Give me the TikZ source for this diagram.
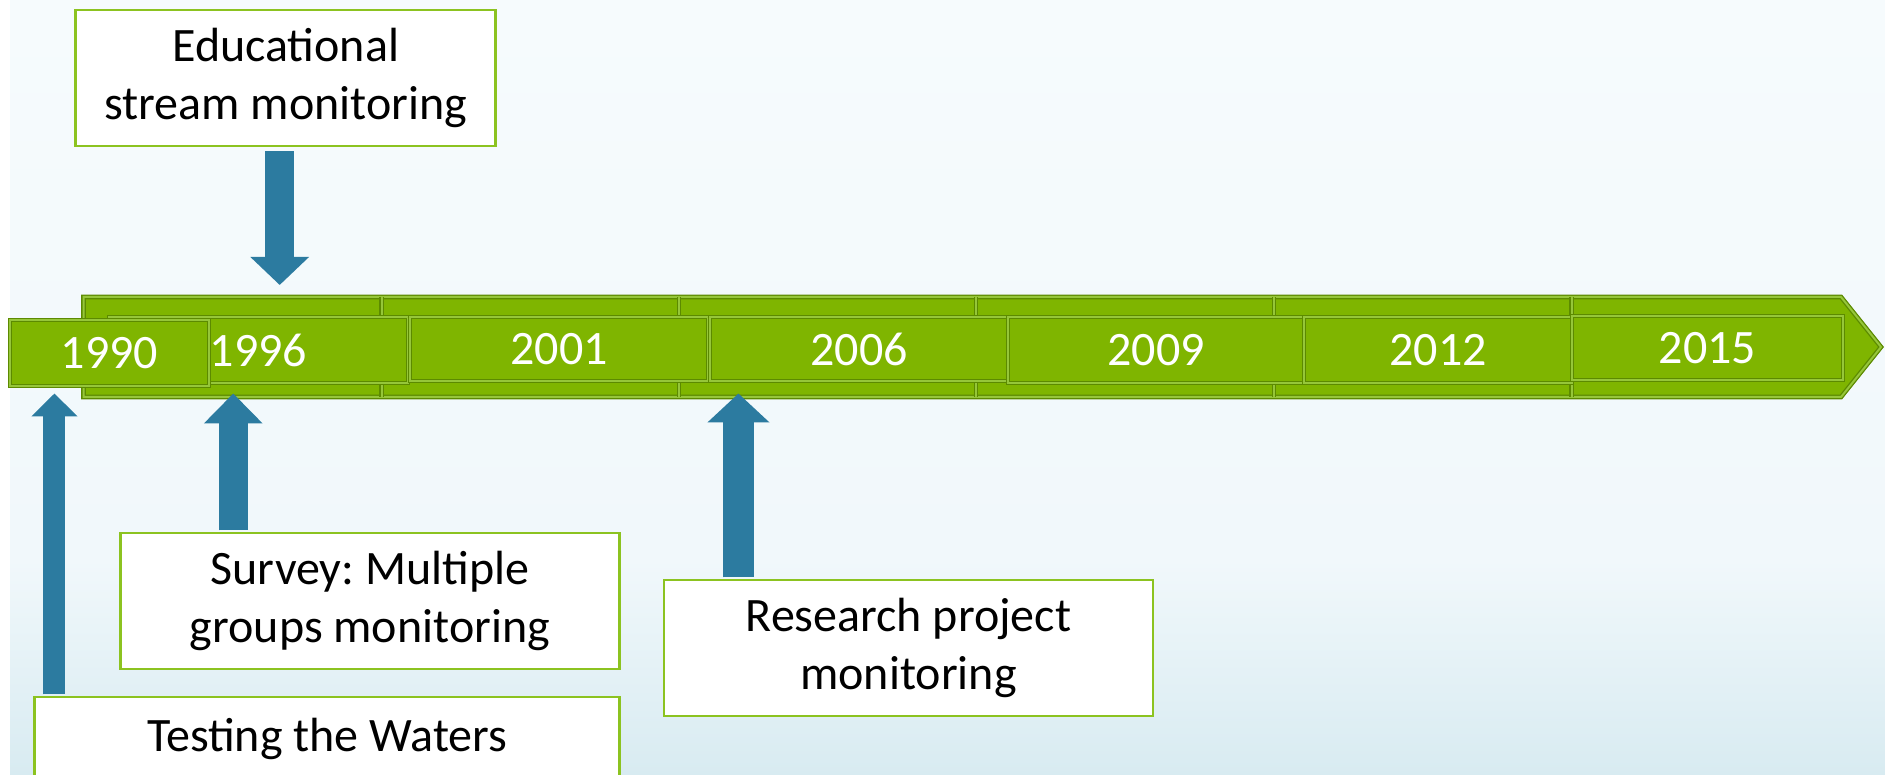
\documentclass[tikz,border=0pt]{standalone}
\usepackage{fontspec}
\setmainfont{Carlito}
\frenchspacing
\usetikzlibrary{calc,arrows.meta}
\definecolor{barGreen}{HTML}{7FB500}
\definecolor{barEdge}{HTML}{5C8A00}
\definecolor{barLight}{HTML}{96C63A}
\definecolor{boxEdge}{HTML}{8CC320}
\definecolor{arrowBlue}{HTML}{2C7BA0}
\definecolor{bgTop}{HTML}{F6FBFD}
\definecolor{bgMid}{HTML}{F1F8FB}
\definecolor{bgBottom}{HTML}{D8EBF1}
\tikzset{
	bandline/.style={draw=barEdge, double=barLight, double distance=2pt, line width=1.3pt},
	yearbox/.style={bandline, fill=barGreen, text=white, inner sep=0pt, font=\fontsize{48}{58}\selectfont},
	textbox/.style={draw=boxEdge, line width=2.5pt, fill=white, align=center, inner sep=0pt, font=\fontsize{48}{58}\selectfont},
	flow/.style args={#1/#2/#3}{draw=arrowBlue, line width=#1, -{Triangle[width=#2, length=#3]}}
}

\begin{document}
\begin{tikzpicture}[x=1pt, y=-1pt]
			%%%%% START %%%%%
			
			\useasboundingbox (0, 0) rectangle (1885, 775);
			\clip (0, 0) rectangle (1885, 775);
			\fill[white] (0, 0) rectangle (1885, 775);
			\shade[top color=bgTop, bottom color=bgMid] (10, 0) rectangle (1885, 560);
			\shade[top color=bgMid, bottom color=bgBottom] (10, 559) rectangle (1885, 775);
			
			% timeline band
			\draw[bandline, fill=barGreen] (83.5, 297) -- (1841, 297) -- (1881, 347) -- (1841, 397) -- (83.5, 397) -- cycle;
			\foreach \x in {381.7, 679, 976, 1274, 1571.6}
				\draw[bandline] (\x, 297) -- (\x, 397);
			
			\foreach \yr/\xa/\ya/\xb/\yb in {1996/109/317/408/383, 2001/410/317/708/381, 2006/710/317/1008/381, 2009/1008/317/1304/383, 2012/1304/317/1572/383, 2015/1572/316/1843/380, 1990/10/320/209/386}{
				\pgfmathsetmacro\w{\xb-\xa}
				\pgfmathsetmacro\h{\yb-\ya}
				\node[yearbox, minimum width=\w pt, minimum height=\h pt] (y\yr) at ({(\xa+\xb)/2}, {(\ya+\yb)/2}) {\yr};
			}
			
			\coordinate (upTip) at (0, 393.5);
			\coordinate (downTip) at (0, 285);
			
			% boxes
			\node[textbox, minimum width=420pt, minimum height=136pt] (edu) at (285.7, 78) {Educational\\stream monitoring};
			\node[textbox, minimum width=499pt, minimum height=136pt] (survey) at (370, 601) {Survey: Multiple\\groups monitoring};
			\node[textbox, minimum width=585pt, minimum height=84pt] (testing) at (327.2, 739) {Testing the Waters};
			\node[textbox, minimum width=489pt, minimum height=136pt] (research) at (908.5, 648) {Research project\\monitoring};
			
			% arrows
			\coordinate (eduFoot) at ([xshift=-6pt]edu.south);
			\coordinate (testFoot) at ([xshift=21pt]testing.north west);
			\coordinate (survFoot) at ([xshift=114pt]survey.north west);
			\coordinate (resFoot) at ([xshift=75.7pt]research.north west);
			
			\draw[flow=29pt/57pt/28pt, shorten <=4pt] (eduFoot) -- (eduFoot |- downTip);
			\draw[flow=22pt/45pt/23pt, shorten <=1.3pt] (testFoot) -- (testFoot |- upTip);
			\draw[flow=29pt/57pt/30pt, shorten <=1.3pt] (survFoot) -- (survFoot |- upTip);
			\draw[flow=30.6pt/60.5pt/29pt, shorten <=1.3pt] (resFoot) -- (resFoot |- upTip);
			
			%%%%% END %%%%%
\end{tikzpicture}
\end{document}
